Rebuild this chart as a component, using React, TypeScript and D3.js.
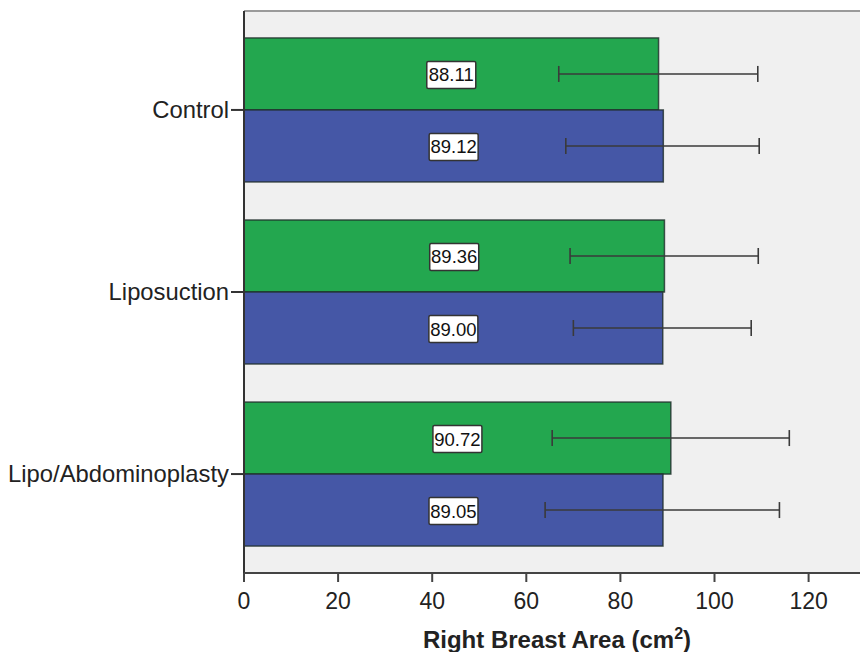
import React from "react";
import * as d3 from "d3";

const categories = ["Control", "Liposuction", "Lipo/Abdominoplasty"];
const seriesKeys = ["green", "blue"];
const greenMeans = [88.11, 89.36, 90.72];
const greenLow = [66.9, 69.3, 65.5];
const greenHigh = [109.2, 109.3, 115.9];
const blueMeans = [89.12, 89.0, 89.05];
const blueLow = [68.4, 70.0, 64.0];
const blueHigh = [109.5, 107.8, 113.8];
const xTicks = [0, 20, 40, 60, 80, 100, 120];
const xTitle = "Right Breast Area (cm";
const xTitleSup = "2";

const W = 860;
const H = 652;
const left = 244;
const top = 11;
const bottom = 573;
const colors: Record<string, string> = { green: "#23a74f", blue: "#4557a6" };

export default function App() {
  const x = d3.scaleLinear().domain([0, 120]).range([left, left + 120 * 4.705]);
  const y = d3
    .scaleBand<string>()
    .domain(categories)
    .range([top, bottom])
    .paddingInner(0.209)
    .paddingOuter(0.148);
  const sub = d3.scaleBand<string>().domain(seriesKeys).range([0, y.bandwidth()]).padding(0);

  const rows = categories.flatMap((c, i) => [
    { c, k: "green", mean: greenMeans[i], lo: greenLow[i], hi: greenHigh[i] },
    { c, k: "blue", mean: blueMeans[i], lo: blueLow[i], hi: blueHigh[i] },
  ]);

  const font = "'Liberation Sans', Arial, Helvetica, sans-serif";

  return (
    <svg
      width={W}
      height={H}
      style={{ position: "absolute", left: 0, top: 0, display: "block", background: "#fff" }}
      fontFamily={font}
    >
      <rect x={left} y={top} width={W - left} height={bottom - top} fill="#f0f0f0" />
      <line x1={left} x2={W} y1={top} y2={top} stroke="#9a9a9a" strokeWidth={2} />
      {rows.map((r, i) => {
        const y0 = (y(r.c) as number) + (sub(r.k) as number);
        const bh = sub.bandwidth();
        const xm = x(r.mean);
        return (
          <g key={i}>
            <rect
              x={x(0)}
              y={y0}
              width={xm - x(0)}
              height={bh}
              fill={colors[r.k]}
              stroke="#1f2d2a"
              strokeOpacity={0.8}
              strokeWidth={1.5}
            />
          </g>
        );
      })}
      {rows.map((r, i) => {
        const y0 = (y(r.c) as number) + (sub(r.k) as number);
        const bh = sub.bandwidth();
        const cy = y0 + bh / 2;
        const labelX = x(r.mean / 2);
        return (
          <g key={"e" + i}>
            <line x1={x(r.lo)} x2={x(r.hi)} y1={cy} y2={cy} stroke="#3a3a3a" strokeWidth={1.6} />
            <line x1={x(r.lo)} x2={x(r.lo)} y1={cy - 8} y2={cy + 8} stroke="#3a3a3a" strokeWidth={1.6} />
            <line x1={x(r.hi)} x2={x(r.hi)} y1={cy - 8} y2={cy + 8} stroke="#3a3a3a" strokeWidth={1.6} />
            <rect
              x={labelX - 24.5}
              y={cy - 12.5}
              width={49}
              height={27}
              fill="#ffffff"
              stroke="#333"
              strokeWidth={1.5}
              rx={1.5}
            />
            <text x={labelX} y={cy + 7.5} textAnchor="middle" fontSize={18.5} fill="#111">
              {r.mean.toFixed(2)}
            </text>
          </g>
        );
      })}
      {/* axes */}
      <line x1={left} x2={left} y1={top} y2={bottom} stroke="#333" strokeWidth={2} />
      <line x1={left} x2={W} y1={bottom} y2={bottom} stroke="#444" strokeWidth={2} />
      {xTicks.map((t) => (
        <g key={t}>
          <line x1={x(t)} x2={x(t)} y1={bottom} y2={bottom + 9} stroke="#444" strokeWidth={2} />
          <text x={x(t)} y={609} textAnchor="middle" fontSize={23} fill="#222">
            {t}
          </text>
        </g>
      ))}
      {categories.map((c) => {
        const cy = (y(c) as number) + y.bandwidth() / 2;
        return (
          <g key={c}>
            <line x1={left - 13} x2={left} y1={cy} y2={cy} stroke="#333" strokeWidth={2} />
            <text x={229} y={cy + 8} textAnchor="end" fontSize={23.8} fill="#222">
              {c}
            </text>
          </g>
        );
      })}
      <text x={557} y={648} textAnchor="middle" fontSize={24} fontWeight="bold" fill="#222">
        {xTitle}
        <tspan dy={-9} fontSize={16}>
          {xTitleSup}
        </tspan>
        <tspan dy={9}>)</tspan>
      </text>
    </svg>
  );
}
